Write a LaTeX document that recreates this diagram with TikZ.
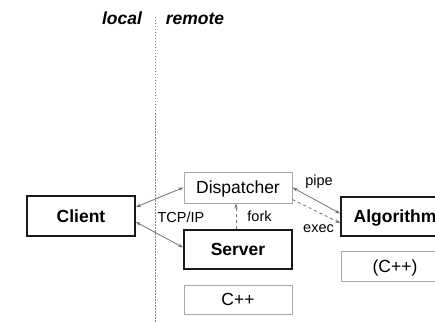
\documentclass[tikz,border=0pt]{standalone}
\usepackage{fontspec}
\setmainfont{Liberation Sans}
\usetikzlibrary{arrows.meta}
\definecolor{thinline}{HTML}{A8A8A8}
\definecolor{arrowgray}{HTML}{707070}
\definecolor{divgray}{HTML}{8A8A8A}
\tikzset{
  boxbase/.style={rectangle, inner sep=0pt, minimum width=108pt,
    text height=12.5pt, text depth=0pt, font=\fontsize{17.5}{20}\selectfont},
  thickbox/.style={boxbase, draw=black!90, line width=1.8pt, font=\fontsize{17.5}{20}\selectfont\bfseries},
  thinbox/.style={boxbase, draw=thinline, line width=1pt},
  conn/.style={draw=arrowgray, line width=0.8pt},
  tip/.style={-{Stealth[length=5pt,width=3.5pt]}},
  bitip/.style={{Stealth[length=5pt,width=3.5pt]}-{Stealth[length=5pt,width=3.5pt]}},
  lbl/.style={anchor=base, inner sep=0pt, font=\fontsize{14.5}{16}\selectfont},
  sidelbl/.style={anchor=base, inner sep=0pt, font=\fontsize{17.5}{20}\selectfont\bfseries\itshape},
}
\begin{document}
\begin{tikzpicture}[x=1pt,y=-1pt]
\useasboundingbox (0,0) rectangle (435,323);
\clip (0,0) rectangle (435,323);
\fill[white] (0,0) rectangle (435,323);

% divider
\coordinate (divtop) at (155,17);
\coordinate (divbot) at (155,323);
\draw[divgray, line width=0.9pt, dash pattern=on 1.5pt off 1.5pt] (divtop) -- (divbot);
\node[sidelbl] (local) at (122,25) {local};
\node[sidelbl] (remote) at (195,25) {remote};

% boxes
\node[thickbox, minimum height=40pt] (client) at (81,216) {Client};
\node[thinbox, minimum height=31pt] (disp) at (238,187.5) {Dispatcher};
\node[thickbox, minimum height=39pt] (server) at (238,249.5) {Server};
\node[thinbox, minimum height=29pt] (cpp) at (238,299.5) {C++};
\node[thickbox, minimum height=39pt] (algo) at (395,216.5) {Algorithm};
\node[thinbox, minimum height=30pt] (cpp2) at (395,266) {(C++)};

% connectors
\draw[conn, bitip] ([yshift=9pt]client.east) -- (disp.west);
\draw[conn, bitip] ([yshift=-6pt]client.east) -- ([yshift=2pt]server.west);
\draw[conn, tip, dashed] ([xshift=-2pt]server.north) -- ([xshift=-2pt]disp.south);
\draw[conn, bitip] ([yshift=0pt]disp.east) -- ([yshift=3pt]algo.west);
\draw[conn, tip, dashed] ([yshift=-12pt]disp.east) -- ([yshift=-6.5pt]algo.west);

% labels
\node[lbl] (tcp) at (181,222) {TCP/IP};
\node[lbl] (fork) at (259.5,221) {fork};
\node[lbl] (pipe) at (319,185) {pipe};
\node[lbl] (exec) at (318.5,232) {exec};
\end{tikzpicture}
\end{document}
